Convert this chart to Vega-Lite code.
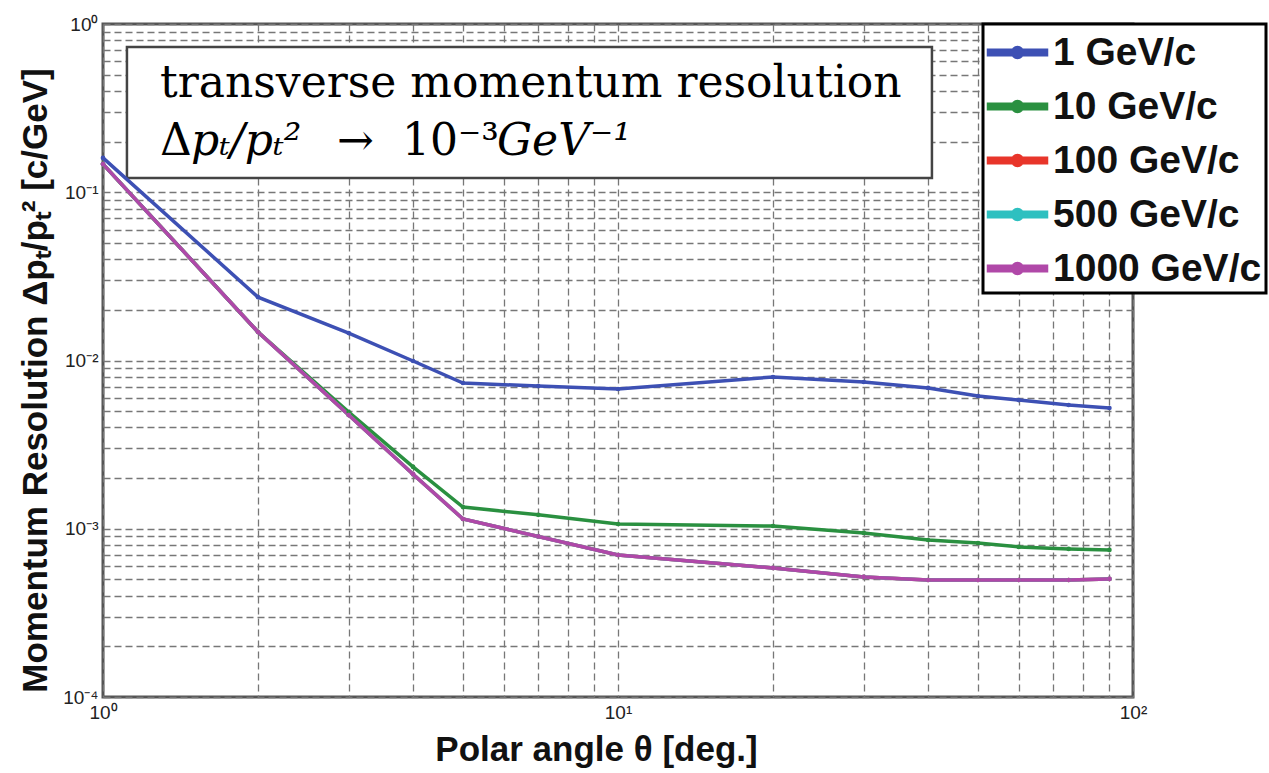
{
  "$schema": "https://vega.github.io/schema/vega-lite/v6.json",
  "width": 1030,
  "height": 673,
  "autosize": {"type": "none"},
  "padding": {"left": 103, "top": 24, "right": 136, "bottom": 76},
  "background": "white",
  "datasets": {
    "curves": [
      {"x":1,"y":0.160,"s":"1 GeV/c"},{"x":2,"y":0.0238,"s":"1 GeV/c"},{"x":3,"y":0.01456,"s":"1 GeV/c"},{"x":4,"y":0.00993,"s":"1 GeV/c"},{"x":5,"y":0.00735,"s":"1 GeV/c"},{"x":7,"y":0.00705,"s":"1 GeV/c"},{"x":10,"y":0.00677,"s":"1 GeV/c"},{"x":20,"y":0.00798,"s":"1 GeV/c"},{"x":30,"y":0.00745,"s":"1 GeV/c"},{"x":40,"y":0.00687,"s":"1 GeV/c"},{"x":50,"y":0.00615,"s":"1 GeV/c"},{"x":60,"y":0.00582,"s":"1 GeV/c"},{"x":75,"y":0.00544,"s":"1 GeV/c"},{"x":90,"y":0.00522,"s":"1 GeV/c"},
      {"x":1,"y":0.147,"s":"10 GeV/c"},{"x":2,"y":0.01477,"s":"10 GeV/c"},{"x":3,"y":0.00494,"s":"10 GeV/c"},{"x":4,"y":0.00233,"s":"10 GeV/c"},{"x":5,"y":0.001346,"s":"10 GeV/c"},{"x":7,"y":0.00121,"s":"10 GeV/c"},{"x":10,"y":0.001067,"s":"10 GeV/c"},{"x":20,"y":0.001038,"s":"10 GeV/c"},{"x":30,"y":0.000944,"s":"10 GeV/c"},{"x":40,"y":0.000857,"s":"10 GeV/c"},{"x":50,"y":0.000823,"s":"10 GeV/c"},{"x":60,"y":0.00078,"s":"10 GeV/c"},{"x":75,"y":0.000759,"s":"10 GeV/c"},{"x":90,"y":0.000748,"s":"10 GeV/c"},
      {"x":1,"y":0.147,"s":"100 GeV/c"},{"x":2,"y":0.01477,"s":"100 GeV/c"},{"x":3,"y":0.00474,"s":"100 GeV/c"},{"x":4,"y":0.00211,"s":"100 GeV/c"},{"x":5,"y":0.001143,"s":"100 GeV/c"},{"x":7,"y":0.0009,"s":"100 GeV/c"},{"x":10,"y":0.000698,"s":"100 GeV/c"},{"x":20,"y":0.000585,"s":"100 GeV/c"},{"x":30,"y":0.000517,"s":"100 GeV/c"},{"x":40,"y":0.000496,"s":"100 GeV/c"},{"x":50,"y":0.000496,"s":"100 GeV/c"},{"x":60,"y":0.000496,"s":"100 GeV/c"},{"x":75,"y":0.000496,"s":"100 GeV/c"},{"x":90,"y":0.000503,"s":"100 GeV/c"},
      {"x":1,"y":0.147,"s":"500 GeV/c"},{"x":2,"y":0.01477,"s":"500 GeV/c"},{"x":3,"y":0.00474,"s":"500 GeV/c"},{"x":4,"y":0.00211,"s":"500 GeV/c"},{"x":5,"y":0.001143,"s":"500 GeV/c"},{"x":7,"y":0.0009,"s":"500 GeV/c"},{"x":10,"y":0.000698,"s":"500 GeV/c"},{"x":20,"y":0.000585,"s":"500 GeV/c"},{"x":30,"y":0.000517,"s":"500 GeV/c"},{"x":40,"y":0.000496,"s":"500 GeV/c"},{"x":50,"y":0.000496,"s":"500 GeV/c"},{"x":60,"y":0.000496,"s":"500 GeV/c"},{"x":75,"y":0.000496,"s":"500 GeV/c"},{"x":90,"y":0.000503,"s":"500 GeV/c"},
      {"x":1,"y":0.147,"s":"1000 GeV/c"},{"x":2,"y":0.01477,"s":"1000 GeV/c"},{"x":3,"y":0.00474,"s":"1000 GeV/c"},{"x":4,"y":0.00211,"s":"1000 GeV/c"},{"x":5,"y":0.001143,"s":"1000 GeV/c"},{"x":7,"y":0.0009,"s":"1000 GeV/c"},{"x":10,"y":0.000698,"s":"1000 GeV/c"},{"x":20,"y":0.000585,"s":"1000 GeV/c"},{"x":30,"y":0.000517,"s":"1000 GeV/c"},{"x":40,"y":0.000496,"s":"1000 GeV/c"},{"x":50,"y":0.000496,"s":"1000 GeV/c"},{"x":60,"y":0.000496,"s":"1000 GeV/c"},{"x":75,"y":0.000496,"s":"1000 GeV/c"},{"x":90,"y":0.000503,"s":"1000 GeV/c"}
    ],
    "box": [{"x":1.113,"y":0.730,"x2":40.7,"y2":0.1215}],
    "upright": [
      {"x":1.29,"y":0.3683,"t":"transverse momentum resolution"},
      {"x":1.29,"y":0.1665,"t":"Δ"},
      {"x":2.847,"y":0.1665,"t":"→"},
      {"x":3.807,"y":0.1665,"t":"10⁻³"}
    ],
    "italic": [
      {"x":1.482,"y":0.1665,"t":"pₜ/pₜ²"},
      {"x":5.821,"y":0.1665,"t":"GeV⁻¹"}
    ]
  },
  "encoding": {
    "x": {
      "field": "x", "type": "quantitative",
      "scale": {"type": "log", "domain": [1, 100], "nice": false},
      "axis": {
        "title": "Polar angle θ [deg.]",
        "values": [1,2,3,4,5,6,7,8,9,10,20,30,40,50,60,70,80,90,100],
        "labelExpr": "datum.value == 1 ? '10⁰' : datum.value == 10 ? '10¹' : datum.value == 100 ? '10²' : ''",
        "labelOverlap": false,
        "labelFlush": false,
        "labelPadding": 6,
        "titleX": 493,
        "titleY": 63,
        "titleBaseline": "alphabetic"
      }
    },
    "y": {
      "field": "y", "type": "quantitative",
      "scale": {"type": "log", "domain": [0.0001, 1], "nice": false},
      "axis": {
        "title": "Momentum Resolution Δpₜ/pₜ² [c/GeV]",
        "values": [0.0001,0.0002,0.0003,0.0004,0.0005,0.0006,0.0007,0.0008,0.0009,0.001,0.002,0.003,0.004,0.005,0.006,0.007,0.008,0.009,0.01,0.02,0.03,0.04,0.05,0.06,0.07,0.08,0.09,0.1,0.2,0.3,0.4,0.5,0.6,0.7,0.8,0.9,1],
        "labelExpr": "datum.value == 1 ? '10⁰' : datum.value == 0.1 ? '10⁻¹' : datum.value == 0.01 ? '10⁻²' : datum.value == 0.001 ? '10⁻³' : datum.value == 0.0001 ? '10⁻⁴' : ''",
        "labelOverlap": false,
        "labelFlush": false,
        "labelPadding": 5,
        "titleX": -57,
        "titleY": 356,
        "titleAngle": -90,
        "titleAlign": "center",
        "titleBaseline": "alphabetic"
      }
    }
  },
  "layer": [
    {
      "data": {"name": "box"},
      "mark": {"type": "rect", "fill": "white", "stroke": "#444", "strokeWidth": 2.5},
      "encoding": {"x2": {"field": "x2"}, "y2": {"field": "y2"}}
    },
    {
      "data": {"name": "curves"},
      "mark": {"type": "line", "strokeWidth": 3.5, "point": {"filled": true, "size": 22}},
      "encoding": {
        "color": {
          "field": "s", "type": "nominal",
          "scale": {
            "domain": ["1 GeV/c", "10 GeV/c", "100 GeV/c", "500 GeV/c", "1000 GeV/c"],
            "range": ["#3d50b4", "#2a9040", "#e8352a", "#2ec0c0", "#b048a8"]
          },
          "legend": {"title": null}
        }
      }
    },
    {
      "data": {"name": "upright"},
      "mark": {"type": "text", "font": "DejaVu Serif", "fontSize": 44, "align": "left", "baseline": "alphabetic", "color": "black"},
      "encoding": {"text": {"field": "t"}}
    },
    {
      "data": {"name": "italic"},
      "mark": {"type": "text", "font": "DejaVu Serif", "fontSize": 44, "fontStyle": "italic", "align": "left", "baseline": "alphabetic", "color": "black"},
      "encoding": {"text": {"field": "t"}}
    }
  ],
  "config": {
    "view": {"stroke": "#555", "strokeWidth": 3},
    "axis": {
      "domain": false,
      "ticks": false,
      "grid": true,
      "gridColor": "#777",
      "gridDash": [7, 4],
      "gridWidth": 1.3,
      "gridOpacity": 1,
      "labelFont": "Liberation Sans",
      "labelFontSize": 19,
      "labelColor": "#222",
      "titleFont": "Liberation Sans",
      "titleFontSize": 35,
      "titleFontWeight": "bold",
      "titleColor": "#111"
    },
    "legend": {
      "orient": "none",
      "legendX": 880,
      "legendY": 0,
      "fillColor": "white",
      "strokeColor": "black",
      "strokeWidth": 3,
      "padding": 4,
      "symbolType": "M-1.5,0L1.5,0M0.13,0A0.13,0.13,0,1,1,-0.13,0A0.13,0.13,0,1,1,0.13,0",
      "symbolSize": 1681,
      "symbolOffset": 6,
      "symbolStrokeWidth": 8,
      "labelFont": "Liberation Sans",
      "labelFontSize": 39,
      "labelFontWeight": "bold",
      "labelColor": "#111",
      "labelLimit": 400,
      "labelOffset": 11,
      "rowPadding": 9
    }
  }
}
